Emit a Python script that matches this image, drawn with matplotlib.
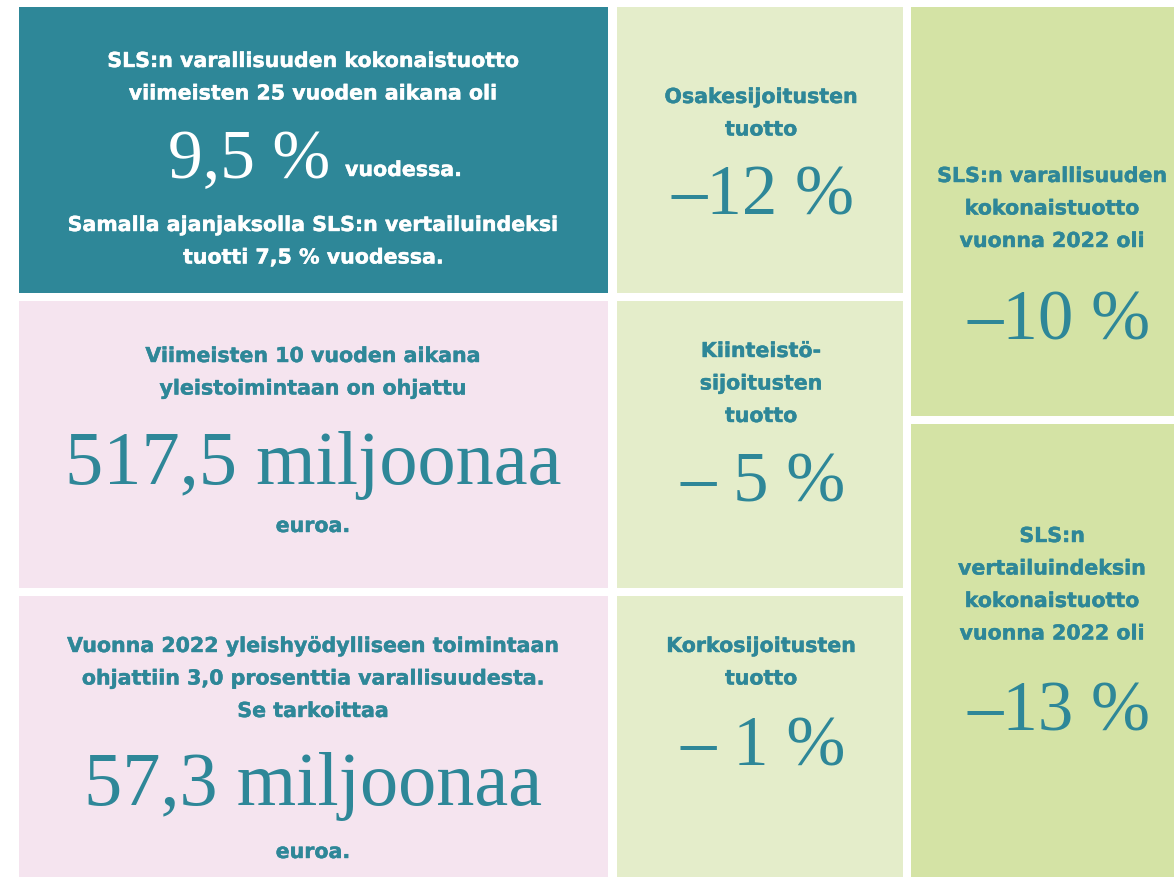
import matplotlib
matplotlib.use("Agg")
import matplotlib.pyplot as plt
import matplotlib.patheffects as pe
from matplotlib.patches import Rectangle

# ---- data (texts and values) ----
teal_lines_top = ["SLS:n varallisuuden kokonaistuotto", "viimeisten 25 vuoden aikana oli"]
teal_value = "9,5 %"
teal_value_suffix = "vuodessa."
teal_lines_bottom = ["Samalla ajanjaksolla SLS:n vertailuindeksi", "tuotti 7,5 % vuodessa."]

pink1_lines = ["Viimeisten 10 vuoden aikana", "yleistoimintaan on ohjattu"]
pink1_value = "517,5 miljoonaa"
pink1_tail = "euroa."

pink2_lines = ["Vuonna 2022 yleishyödylliseen toimintaan",
               "ohjattiin 3,0 prosenttia varallisuudesta.",
               "Se tarkoittaa"]
pink2_value = "57,3 miljoonaa"
pink2_tail = "euroa."

mid_labels = [["Osakesijoitusten", "tuotto"],
              ["Kiinteistö-", "sijoitusten", "tuotto"],
              ["Korkosijoitusten", "tuotto"]]
mid_values = ["\u201312 %", "\u2013 5 %", "\u2013 1 %"]

right_labels = [["SLS:n varallisuuden", "kokonaistuotto", "vuonna 2022 oli"],
                ["SLS:n", "vertailuindeksin", "kokonaistuotto", "vuonna 2022 oli"]]
right_values = ["\u201310 %", "\u201313 %"]

# ---- style ----
TEAL = "#2E8798"
PINK = "#F5E4EF"
LGREEN = "#E4EDCA"
GREEN = "#D4E3A5"
SANS = "DejaVu Sans"
SERIF = "Liberation Serif"
BOLD_SIZE = 14.8
LINE = 32.5

W, H = 1174, 878
fig = plt.figure(figsize=(W / 100, H / 100), dpi=100)
ax = fig.add_axes([0, 0, 1, 1])
ax.set_xlim(0, W)
ax.set_ylim(H, 0)
ax.axis("off")
fig.patch.set_facecolor("white")


def box(x0, y0, x1, y1, color):
    ax.add_patch(Rectangle((x0, y0), x1 - x0, y1 - y0, facecolor=color, edgecolor="none"))


def bold(x, y, s, color=TEAL, size=BOLD_SIZE, ha="center"):
    ax.text(x, y, s, ha=ha, va="center", fontsize=size, fontweight="bold",
            family=SANS, color=color,
            path_effects=[pe.Stroke(linewidth=0.3, foreground=color), pe.Normal()])


def big(x, y, s, size, color=TEAL, ha="center"):
    ax.text(x, y, s, ha=ha, va="baseline", fontsize=size, family=SERIF, color=color)


# boxes
rows = [(8, 294), (302, 589), (597, 878)]
box(19, rows[0][0], 608, rows[0][1], TEAL)
box(19, rows[1][0], 608, rows[1][1], PINK)
box(19, rows[2][0], 608, rows[2][1], PINK)
for (a, b) in rows:
    box(617, a, 903, b, LGREEN)
box(911, 8, 1174, 417, GREEN)
box(911, 425, 1174, 878, GREEN)

# teal box
cx = 313
for i, s in enumerate(teal_lines_top):
    bold(cx, 62 + i * LINE, s, color="white")
big(330, 178, teal_value, 50, color="white", ha="right")
bold(345, 171, teal_value_suffix, color="white", ha="left")
for i, s in enumerate(teal_lines_bottom):
    bold(cx, 226 + i * LINE, s, color="white")

# pink 1
for i, s in enumerate(pink1_lines):
    bold(cx, 357 + i * LINE, s)
big(cx, 484, pink1_value, 55)
bold(cx, 527, pink1_tail)

# pink 2
for i, s in enumerate(pink2_lines):
    bold(cx, 647 + i * LINE, s)
big(cx, 805, pink2_value, 55)
bold(cx, 853, pink2_tail)

# middle column
mx = 761
mid_label_y = [98, 352, 647]
mid_value_y = [215, 502, 766]
for lab, ly, val, vy in zip(mid_labels, mid_label_y, mid_values, mid_value_y):
    for i, s in enumerate(lab):
        bold(mx, ly + i * LINE, s)
    big(mx + 2, vy, val, 51)

# right column
rx = 1052
right_label_y = [177, 537]
right_value_y = [340, 731]
for lab, ly, val, vy in zip(right_labels, right_label_y, right_values, right_value_y):
    for i, s in enumerate(lab):
        bold(rx, ly + i * LINE, s)
    big(rx + 7, vy, val, 51)

fig.savefig("out.png", dpi=100)
